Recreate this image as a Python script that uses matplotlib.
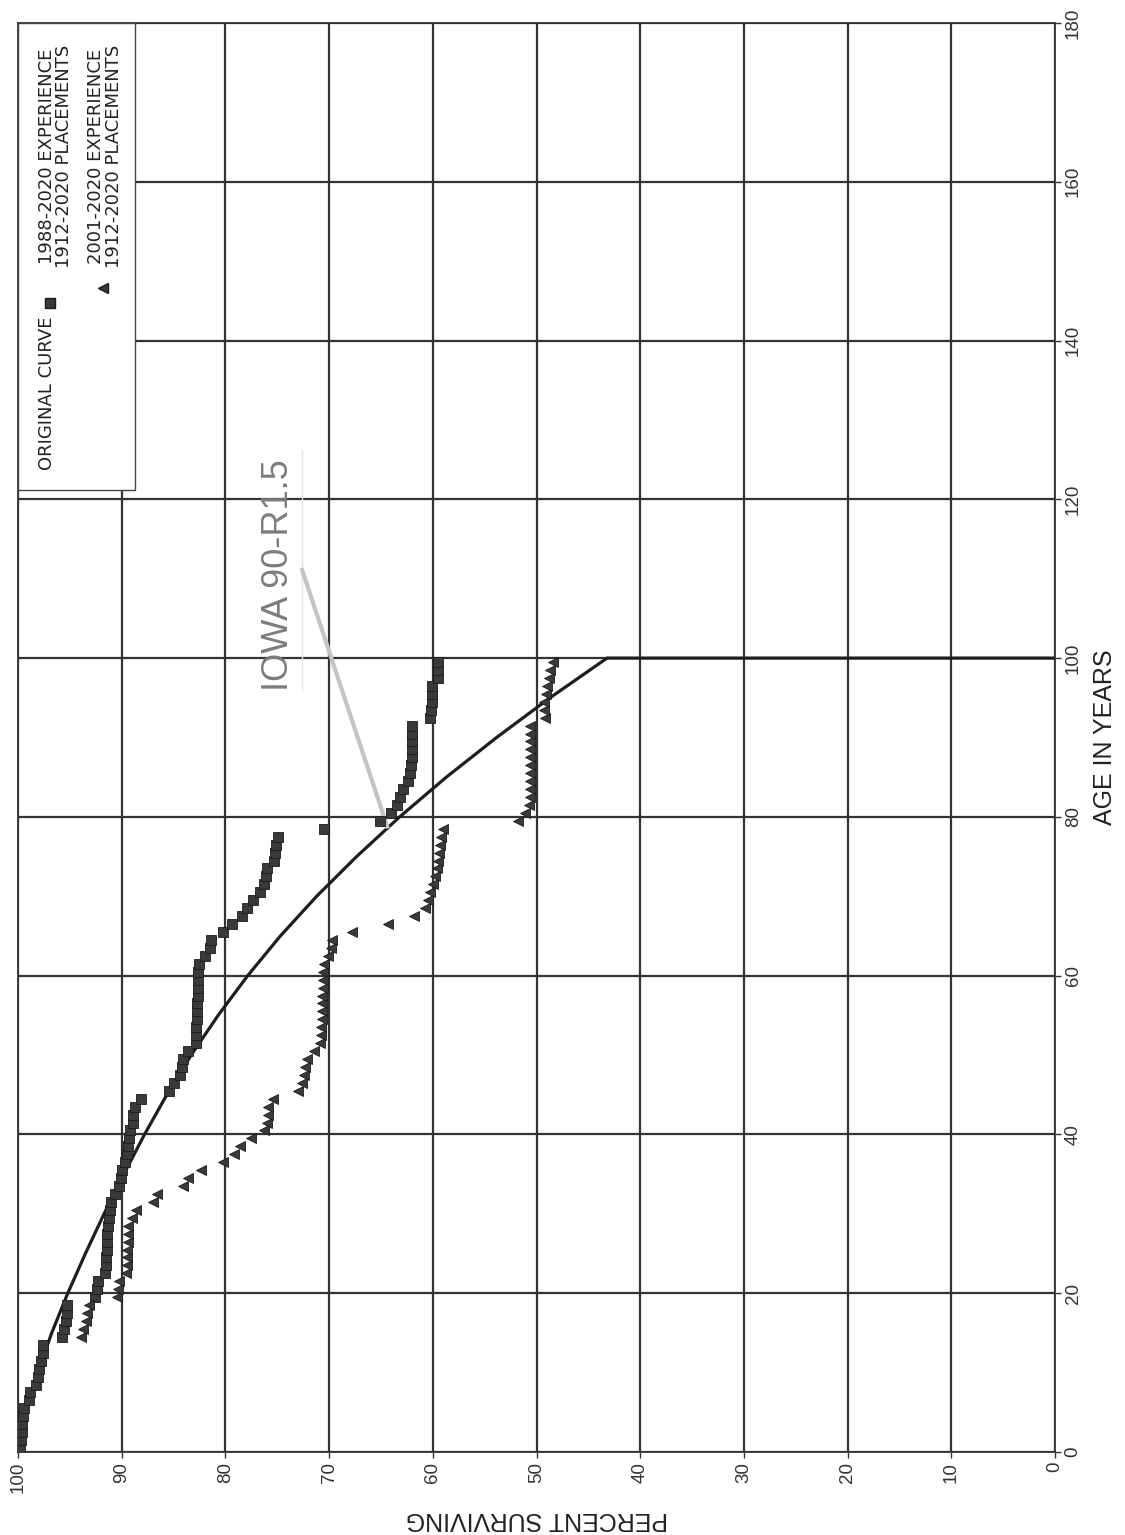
#libraries
import numpy as np
import matplotlib.pyplot as plt
from matplotlib.patches import Rectangle
from matplotlib.lines import Line2D

plt.rcParams['font.family'] = ['Liberation Sans', 'DejaVu Sans']

# figure size in pixels (chart is drawn turned on its side, like the scan)
W, H = 1125, 1535

def fx(px):
    return px / W

def fy(py):
    return 1 - py / H

# ---- data ----
pct_ticks = [0, 10, 20, 30, 40, 50, 60, 70, 80, 90, 100]
age_ticks = [0, 20, 40, 60, 80, 100, 120, 140, 160, 180]

# Iowa 90-R1.5 original curve (age, percent surviving)
curve_age = [0, 5, 10, 15, 20, 25, 30, 35, 40, 45, 50, 55, 60, 65, 70,
             75, 80, 85, 90, 95, 100, 100]
curve_pct = [100.0, 99.2, 98.1, 96.75, 95.2, 93.5, 91.7, 89.8, 87.8, 85.65,
             83.3, 80.7, 77.85, 74.7, 71.2, 67.35, 63.2, 58.7, 53.85, 48.7,
             43.2, 0.0]

# 1988-2020 experience, ages 0.5 .. 99.5
exp88_age = np.arange(0.5, 100, 1)
exp88_pct = [99.8, 99.7, 99.6, 99.6, 99.5, 99.4, 98.9, 98.8, 98.3, 98.1,
             98.0, 97.8, 97.6, 97.6, 95.8, 95.6, 95.4, 95.3, 95.3, 92.6,
             92.4, 92.3, 91.6, 91.5, 91.5, 91.4, 91.4, 91.4, 91.3, 91.2,
             91.1, 91.0, 90.6, 90.3, 90.1, 90.0, 89.7, 89.5, 89.4, 89.3,
             89.2, 88.9, 88.9, 88.7, 88.1, 85.4, 85.0, 84.4, 84.2, 84.1,
             83.6, 82.8, 82.8, 82.8, 82.7, 82.7, 82.7, 82.6, 82.6, 82.6,
             82.6, 82.5, 82.0, 81.5, 81.4, 80.2, 79.4, 78.4, 77.9, 77.3,
             76.7, 76.3, 76.1, 76.0, 75.3, 75.2, 75.1, 74.9, 70.5, 65.1,
             64.0, 63.5, 63.2, 62.9, 62.4, 62.2, 62.1, 62.0, 62.0, 62.0,
             62.0, 62.0, 60.3, 60.2, 60.1, 60.1, 60.1, 59.5, 59.5, 59.5]

# 2001-2020 experience, ages 14.5 .. 99.5
exp01_age = np.arange(14.5, 100, 1)
exp01_pct = [93.9, 93.7, 93.4, 93.3, 93.2, 90.5,
             90.4, 90.3, 89.6, 89.5, 89.5, 89.5, 89.4, 89.4, 89.4, 89.0,
             88.6, 87.0, 86.6, 84.1, 83.6, 82.4, 80.2, 79.2, 78.6, 77.5,
             76.3, 76.0, 75.9, 75.9, 75.4, 73.0, 72.6, 72.4, 72.3, 72.1,
             71.5, 70.9, 70.8, 70.8, 70.7, 70.7, 70.7, 70.7, 70.6, 70.6,
             70.6, 70.5, 70.1, 69.8, 69.7, 67.8, 64.3, 61.8, 60.8, 60.5,
             60.3, 60.0, 59.8, 59.6, 59.5, 59.4, 59.3, 59.2, 59.0, 51.8,
             51.1, 50.7, 50.6, 50.6, 50.6, 50.6, 50.6, 50.6, 50.6, 50.6,
             50.6, 50.6, 49.2, 49.3, 49.3, 49.1, 49.0, 48.8, 48.7, 48.4]

curve_name = 'IOWA 90-R1.5'
legend_curve = 'ORIGINAL CURVE'
legend_88 = ['1988-2020 EXPERIENCE', '1912-2020 PLACEMENTS']
legend_01 = ['2001-2020 EXPERIENCE', '1912-2020 PLACEMENTS']

# ---- figure ----
fig = plt.figure(figsize=(W / 100, H / 100), dpi=100)
ax = fig.add_axes([fx(18), fy(1452), fx(1055) - fx(18), fy(23) - fy(1452)])

grid_c = '#333333'
ax.set_xlim(100, 0)
ax.set_ylim(0, 180)
ax.set_xticks(pct_ticks)
ax.set_yticks(age_ticks)
ax.grid(True, color=grid_c, lw=1.6)
ax.set_axisbelow(True)
for s in ax.spines.values():
    s.set_color(grid_c)
    s.set_linewidth(1.3)

ax.yaxis.tick_right()
ax.yaxis.set_label_position('right')
ax.tick_params(axis='both', direction='out', length=4, width=1, colors='#333333',
               labelsize=13.5, pad=3, labelrotation=90)
for lbl in ax.get_yticklabels():
    lbl.set_va('center')

ax.set_xlabel('PERCENT SURVIVING', fontsize=18, rotation=180, labelpad=10, color='#222222')
ax.set_ylabel('AGE IN YEARS', fontsize=18, rotation=90, labelpad=8, color='#222222')

# curve and experience points
ax.plot(curve_pct, curve_age, color='#1e1e1e', lw=2.3, zorder=3)
ax.plot(exp88_pct, exp88_age, ls='none', marker='s', ms=6.8,
        mfc='#3a3a3a', mec='#1a1a1a', mew=0.6, zorder=4)
ax.plot(exp01_pct, exp01_age, ls='none', marker='<', ms=7.5,
        mfc='#3a3a3a', mec='#1a1a1a', mew=0.6, zorder=4)

# curve label with leader line
ax.plot([72.6, 72.6], [96.0, 126.2], color='#e4e4e4', lw=1, zorder=3)
ax.plot([72.6, 64.4], [111.1, 78.8], color='#c4c4c4', lw=3, zorder=3)
ax.text(74.9, 110.5, curve_name, rotation=90, ha='center', va='center',
        fontsize=26, color='#7c7c7c', zorder=5)

# legend box (drawn by hand, rotated)
fig.add_artist(Rectangle((fx(18), fy(490)), fx(135) - fx(18), fy(23) - fy(490),
                         transform=fig.transFigure, facecolor='white',
                         edgecolor='#444444', lw=1, zorder=6))
lkw = dict(rotation=90, ha='center', va='center', fontsize=13,
           color='#222222', family='DejaVu Sans', zorder=7)
fig.text(fx(47.5), fy(393), legend_curve, **lkw)
fig.text(fx(47), fy(156), legend_88[0], **lkw)
fig.text(fx(64), fy(156), legend_88[1], **lkw)
fig.text(fx(96), fy(156), legend_01[0], **lkw)
fig.text(fx(114), fy(156), legend_01[1], **lkw)
fig.add_artist(Line2D([fx(50)], [fy(303)], transform=fig.transFigure, marker='s',
                      ms=6.8, mfc='#3a3a3a', mec='#1a1a1a', ls='none', zorder=7))
fig.add_artist(Line2D([fx(103)], [fy(288)], transform=fig.transFigure, marker='<',
                      ms=7.5, mfc='#3a3a3a', mec='#1a1a1a', ls='none', zorder=7))

fig.savefig('out.png', dpi=100)
